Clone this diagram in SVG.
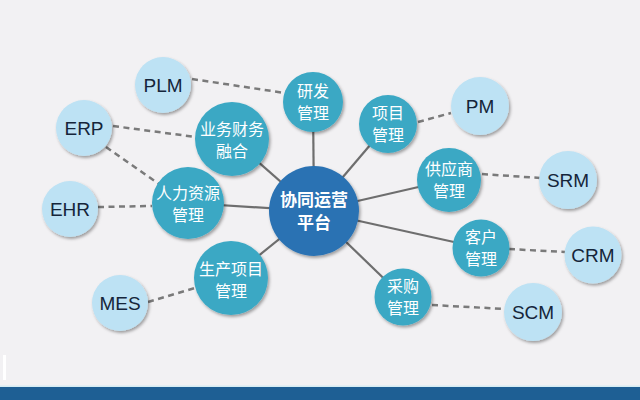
<svg xmlns="http://www.w3.org/2000/svg" width="640" height="400" viewBox="0 0 640 400">
<defs>
<filter id="sh" x="-30%" y="-30%" width="160%" height="160%">
<feDropShadow dx="1.5" dy="2" stdDeviation="1.6" flood-color="#000" flood-opacity="0.35"/>
</filter>
<style>
.solid{stroke:#6e6e6e;stroke-width:2.2;fill:none}
.dash{stroke:#7a7a7a;stroke-width:2.5;stroke-dasharray:6 4.5;fill:none}
.teal{fill:#3ba8c4;filter:url(#sh)}
.light{fill:#bde2f4;filter:url(#sh)}
.core{fill:#2a72b3;filter:url(#sh)}
.tw{fill:#fff;font-family:"Noto Sans CJK SC","Noto Sans",sans-serif;font-size:16px;text-anchor:middle}
.tc{fill:#fff;font-family:"Noto Sans CJK SC","Noto Sans",sans-serif;font-size:17px;font-weight:bold;text-anchor:middle}
.te{fill:#15253a;font-family:"Liberation Sans",Arial,sans-serif;font-size:19px;text-anchor:middle}
</style>
</defs>
<rect width="640" height="400" fill="#f2f1f3"/>
<rect x="3" y="355" width="3" height="25" fill="#ffffff"/>
<rect x="0" y="385.5" width="640" height="1.5" fill="#d6ecf3"/>
<rect x="0" y="387" width="640" height="13" fill="#1e5f94"/>
<g id="connectors">
<line class="solid" x1="314" y1="211" x2="313" y2="102"/>
<line class="solid" x1="314" y1="211" x2="232" y2="139"/>
<line class="solid" x1="314" y1="211" x2="188" y2="203"/>
<line class="solid" x1="314" y1="211" x2="231" y2="278"/>
<line class="solid" x1="314" y1="211" x2="388" y2="124"/>
<line class="solid" x1="314" y1="211" x2="449" y2="180"/>
<line class="solid" x1="314" y1="211" x2="481" y2="248"/>
<line class="solid" x1="314" y1="211" x2="403" y2="297"/>
<line class="dash" x1="192" y1="79" x2="285" y2="93"/>
<line class="dash" x1="113" y1="126" x2="196" y2="137"/>
<line class="dash" x1="106" y1="147" x2="159" y2="184"/>
<line class="dash" x1="98" y1="207" x2="152" y2="206"/>
<line class="dash" x1="148" y1="302" x2="195" y2="288"/>
<line class="dash" x1="418" y1="122" x2="451" y2="113"/>
<line class="dash" x1="482" y1="174" x2="540" y2="178"/>
<line class="dash" x1="509" y1="249" x2="565" y2="252"/>
<line class="dash" x1="432" y1="305" x2="505" y2="309"/>
</g>
<g id="plm"><circle class="light" cx="163" cy="85" r="28"/><text class="te" x="163" y="92">PLM</text></g>
<g id="erp"><circle class="light" cx="84" cy="128" r="28"/><text class="te" x="84" y="135">ERP</text></g>
<g id="ehr"><circle class="light" cx="70" cy="209" r="28"/><text class="te" x="70" y="216">EHR</text></g>
<g id="mes"><circle class="light" cx="120" cy="303" r="28"/><text class="te" x="120" y="310">MES</text></g>
<g id="pm"><circle class="light" cx="480" cy="106" r="29"/><text class="te" x="480" y="113">PM</text></g>
<g id="srm"><circle class="light" cx="568" cy="180" r="29"/><text class="te" x="568" y="187">SRM</text></g>
<g id="crm"><circle class="light" cx="593" cy="255" r="28.5"/><text class="te" x="593" y="262">CRM</text></g>
<g id="scm"><circle class="light" cx="533" cy="312" r="29"/><text class="te" x="533" y="319">SCM</text></g>
<g id="yanfa"><circle class="teal" cx="313" cy="102" r="30"/><text class="tw" x="313" y="97">研发</text><text class="tw" x="313" y="119">管理</text></g>
<g id="caiwu"><circle class="teal" cx="232" cy="139" r="37"/><text class="tw" x="232" y="135">业务财务</text><text class="tw" x="232" y="157">融合</text></g>
<g id="renli"><circle class="teal" cx="188" cy="203" r="36"/><text class="tw" x="188" y="199">人力资源</text><text class="tw" x="188" y="221">管理</text></g>
<g id="shengchan"><circle class="teal" cx="231" cy="278" r="37"/><text class="tw" x="231" y="275">生产项目</text><text class="tw" x="231" y="297">管理</text></g>
<g id="xiangmu"><circle class="teal" cx="388" cy="124" r="29"/><text class="tw" x="388" y="119">项目</text><text class="tw" x="388" y="141">管理</text></g>
<g id="gongying"><circle class="teal" cx="449" cy="180" r="32"/><text class="tw" x="449" y="175">供应商</text><text class="tw" x="449" y="197">管理</text></g>
<g id="kehu"><circle class="teal" cx="481" cy="248" r="28.5"/><text class="tw" x="481" y="243">客户</text><text class="tw" x="481" y="265">管理</text></g>
<g id="caigou"><circle class="teal" cx="403" cy="297" r="28.5"/><text class="tw" x="403" y="292">采购</text><text class="tw" x="403" y="314">管理</text></g>
<g id="core"><circle class="core" cx="314" cy="211" r="45"/><text class="tc" x="314" y="206">协同运营</text><text class="tc" x="314" y="229">平台</text></g>
</svg>
